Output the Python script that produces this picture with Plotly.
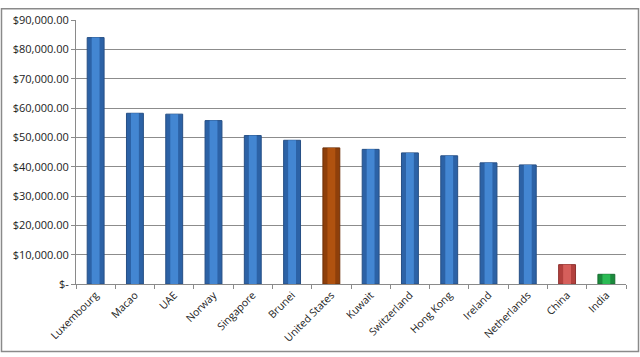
import plotly.graph_objects as go

countries = ["Luxembourg", "Macao", "UAE", "Norway", "Singapore", "Brunei",
             "United States", "Kuwait", "Switzerland", "Hong Kong", "Ireland",
             "Netherlands", "China", "India"]
gdp = [84000, 58200, 57900, 55700, 50600, 49000, 46400, 45900, 44700, 43700,
       41300, 40600, 6600, 3300]
edge_colors = ["#2c62a6"] * 6 + ["#8e3f0a"] + ["#2c62a6"] * 5 + ["#b3403d", "#1a8a3c"]
center_colors = ["#4386d2"] * 6 + ["#b0520f"] + ["#4386d2"] * 5 + ["#d65f5b", "#2bbb55"]
line_colors = ["#264f85"] * 6 + ["#6e3008"] + ["#264f85"] * 5 + ["#8e3230", "#166e30"]
ytick_vals = [0, 10000, 20000, 30000, 40000, 50000, 60000, 70000, 80000, 90000]
ytick_text = ["$-", "$10,000.00", "$20,000.00", "$30,000.00", "$40,000.00",
              "$50,000.00", "$60,000.00", "$70,000.00", "$80,000.00", "$90,000.00"]

fig = go.Figure()
fig.add_trace(go.Bar(
    x=countries, y=gdp, width=0.43,
    marker=dict(color=edge_colors, line=dict(color=line_colors, width=1)),
    hoverinfo="x+y",
))
fig.add_trace(go.Bar(
    x=countries, y=gdp, width=0.2,
    marker=dict(color=center_colors, line=dict(width=0)),
    hoverinfo="skip",
))

W, H = 640, 357
ml, mr, mt, mb = 76, 14, 13, 72
pw, ph = W - ml - mr, H - mt - mb

fig.update_layout(
    width=W, height=H,
    margin=dict(l=ml, r=mr, t=mt, b=mb),
    paper_bgcolor="white", plot_bgcolor="white",
    barmode="overlay", showlegend=False,
    font=dict(family="Open Sans, Liberation Sans, sans-serif", size=11, color="#222"),
    xaxis=dict(
        showline=True, linecolor="#8a8a8a", linewidth=1,
        ticks="outside", tickson="boundaries", ticklen=4, tickcolor="#8a8a8a",
        tickangle=-45, tickfont=dict(size=10.5), showgrid=False,
    ),
    yaxis=dict(
        range=[0, 90000], tickvals=ytick_vals, ticktext=ytick_text,
        showline=True, linecolor="#8a8a8a", linewidth=1,
        ticks="outside", ticklen=4, tickcolor="#8a8a8a",
        showgrid=True, gridcolor="#8c8c8c", gridwidth=1,
        zeroline=False, tickfont=dict(size=11),
    ),
    shapes=[dict(
        type="rect", xref="paper", yref="paper",
        x0=(1.5 - ml) / pw, x1=(638.5 - ml) / pw,
        y0=(H - mb - 354.5) / ph, y1=(H - mb - 1.5) / ph,
        line=dict(color="#8a8a8a", width=1.5), layer="below",
    )],
)

fig.write_html("out.html")
